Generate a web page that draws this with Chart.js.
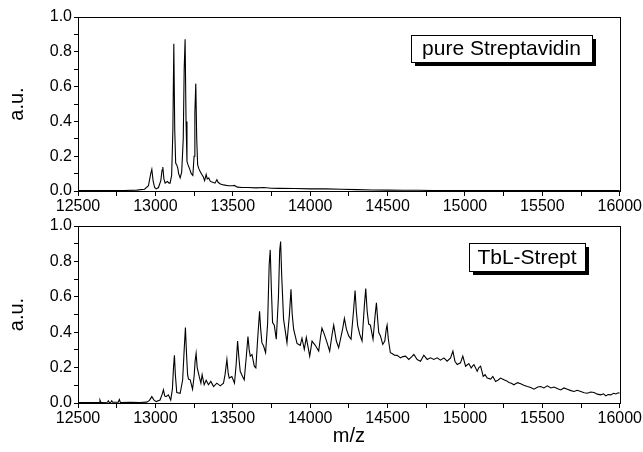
<!DOCTYPE html>
<html>
<head>
<meta charset="utf-8">
<script src="https://cdn.jsdelivr.net/npm/chart.js@4.4.0/dist/chart.umd.min.js"></script>
<style>
  html, body { margin: 0; padding: 0; background: #fff; }
  #wrap { position: relative; width: 643px; height: 452px; }
  canvas { position: absolute; left: 0; }
  #top { top: 0; }
  #bottom { top: 214px; }
</style>
</head>
<body>
<div id="wrap">
  <canvas id="top" width="643" height="214"></canvas>
  <canvas id="bottom" width="643" height="238"></canvas>
</div>
<script>
// m/z tick positions (labels only on every 500)
const xTicks = [12500, 12750, 13000, 13250, 13500, 13750, 14000, 14250, 14500, 14750, 15000, 15250, 15500, 15750, 16000];
const yTicks = [0, 0.1, 0.2, 0.3, 0.4, 0.5, 0.6, 0.7, 0.8, 0.9, 1.0];

// pure Streptavidin spectrum
const topMz = [12500, 12600, 12700, 12800, 12880, 12930, 12955, 12970, 12977, 12985, 12995, 13005, 13020, 13035, 13043, 13048, 13055, 13063, 13070, 13078, 13088, 13095, 13105, 13113, 13119, 13125, 13131, 13138, 13145, 13150, 13160, 13170, 13180, 13186, 13192, 13198, 13204, 13211, 13220, 13232, 13242, 13250, 13255, 13261, 13267, 13273, 13280, 13290, 13300, 13310, 13318, 13328, 13335, 13345, 13355, 13370, 13385, 13397, 13405, 13420, 13440, 13470, 13500, 13510, 13530, 13560, 13600, 13650, 13700, 13750, 13800, 13900, 14000, 14100, 14200, 14300, 14400, 14500, 14600, 14700, 14800, 15000, 15200, 15500, 15800, 16000];
const topVal = [0.002, 0.002, 0.003, 0.003, 0.005, 0.01, 0.03, 0.10, 0.125, 0.06, 0.02, 0.012, 0.02, 0.06, 0.12, 0.138, 0.07, 0.045, 0.05, 0.055, 0.045, 0.045, 0.09, 0.35, 0.846, 0.35, 0.16, 0.15, 0.13, 0.1, 0.075, 0.11, 0.3, 0.7, 0.872, 0.4, 0.17, 0.15, 0.13, 0.1, 0.09, 0.2, 0.45, 0.617, 0.3, 0.15, 0.13, 0.11, 0.095, 0.08, 0.06, 0.095, 0.07, 0.075, 0.055, 0.05, 0.045, 0.065, 0.05, 0.04, 0.035, 0.03, 0.03, 0.032, 0.022, 0.02, 0.02, 0.018, 0.02, 0.016, 0.015, 0.014, 0.012, 0.012, 0.01, 0.008, 0.006, 0.005, 0.004, 0.004, 0.003, 0.003, 0.002, 0.002, 0.002, 0.002];

// TbL-Strept spectrum
const botMz = [12500, 12560, 12600, 12636, 12642, 12648, 12690, 12696, 12702, 12712, 12718, 12724, 12760, 12767, 12774, 12836, 12900, 12944, 12962, 12977, 12990, 13005, 13030, 13044, 13052, 13060, 13069, 13084, 13099, 13110, 13117, 13123, 13129, 13138, 13160, 13176, 13186, 13194, 13201, 13208, 13214, 13225, 13240, 13250, 13257, 13263, 13270, 13283, 13294, 13302, 13315, 13328, 13343, 13358, 13376, 13397, 13419, 13440, 13450, 13462, 13470, 13477, 13494, 13511, 13522, 13531, 13540, 13548, 13563, 13574, 13588, 13598, 13606, 13613, 13624, 13639, 13649, 13662, 13673, 13680, 13688, 13699, 13712, 13725, 13735, 13742, 13749, 13757, 13768, 13781, 13795, 13803, 13809, 13816, 13828, 13850, 13866, 13876, 13884, 13893, 13915, 13936, 13947, 13962, 13975, 13997, 14012, 14033, 14055, 14068, 14076, 14091, 14109, 14126, 14142, 14152, 14169, 14184, 14210, 14221, 14234, 14249, 14264, 14280, 14290, 14298, 14307, 14320, 14335, 14350, 14359, 14368, 14378, 14389, 14406, 14420, 14428, 14436, 14443, 14454, 14469, 14482, 14492, 14497, 14505, 14518, 14529, 14545, 14562, 14583, 14600, 14616, 14637, 14655, 14670, 14691, 14713, 14734, 14756, 14777, 14799, 14820, 14842, 14864, 14885, 14907, 14922, 14935, 14950, 14971, 14986, 15004, 15025, 15040, 15050, 15058, 15079, 15090, 15101, 15118, 15130, 15144, 15166, 15180, 15198, 15215, 15230, 15252, 15270, 15284, 15300, 15316, 15340, 15360, 15380, 15403, 15425, 15446, 15470, 15489, 15510, 15532, 15555, 15575, 15600, 15618, 15640, 15661, 15685, 15705, 15725, 15748, 15770, 15791, 15812, 15834, 15855, 15877, 15895, 15910, 15925, 15942, 15960, 15974, 15990, 16000];
const botVal = [0.002, 0.003, 0.002, 0.003, 0.016, 0.003, 0.004, 0.012, 0.003, 0.004, 0.012, 0.004, 0.004, 0.02, 0.003, 0.004, 0.003, 0.005, 0.015, 0.036, 0.018, 0.008, 0.017, 0.05, 0.074, 0.04, 0.036, 0.046, 0.017, 0.08, 0.2, 0.269, 0.16, 0.059, 0.055, 0.13, 0.3, 0.427, 0.28, 0.16, 0.135, 0.131, 0.078, 0.15, 0.24, 0.28, 0.2, 0.15, 0.112, 0.16, 0.103, 0.128, 0.103, 0.122, 0.093, 0.112, 0.097, 0.112, 0.16, 0.246, 0.17, 0.141, 0.15, 0.112, 0.22, 0.35, 0.25, 0.179, 0.15, 0.131, 0.27, 0.375, 0.3, 0.265, 0.274, 0.208, 0.198, 0.38, 0.518, 0.42, 0.341, 0.322, 0.284, 0.45, 0.78, 0.865, 0.65, 0.455, 0.44, 0.36, 0.6, 0.86, 0.912, 0.72, 0.474, 0.341, 0.5, 0.642, 0.5, 0.417, 0.337, 0.326, 0.366, 0.303, 0.37, 0.265, 0.35, 0.326, 0.293, 0.38, 0.423, 0.389, 0.341, 0.293, 0.39, 0.44, 0.35, 0.312, 0.42, 0.478, 0.417, 0.379, 0.36, 0.52, 0.636, 0.52, 0.436, 0.389, 0.35, 0.55, 0.646, 0.52, 0.446, 0.44, 0.36, 0.5, 0.566, 0.47, 0.398, 0.379, 0.331, 0.35, 0.42, 0.44, 0.36, 0.284, 0.28, 0.27, 0.269, 0.255, 0.262, 0.265, 0.246, 0.26, 0.274, 0.246, 0.236, 0.27, 0.246, 0.255, 0.246, 0.255, 0.242, 0.255, 0.236, 0.255, 0.293, 0.236, 0.217, 0.227, 0.265, 0.208, 0.223, 0.198, 0.21, 0.217, 0.179, 0.2, 0.208, 0.15, 0.16, 0.141, 0.135, 0.15, 0.122, 0.13, 0.141, 0.131, 0.125, 0.116, 0.112, 0.103, 0.115, 0.109, 0.1, 0.093, 0.088, 0.078, 0.09, 0.093, 0.085, 0.097, 0.085, 0.09, 0.08, 0.074, 0.085, 0.078, 0.07, 0.065, 0.072, 0.065, 0.058, 0.055, 0.062, 0.059, 0.05, 0.046, 0.052, 0.04, 0.048, 0.046, 0.055, 0.051, 0.058, 0.055];

const FONT = 'Liberation Sans, Arial, sans-serif';

// frame around plot area + labelled box with shadow
const framePlugin = {
    id: 'frame',
    afterDraw(chart, args, opts) {
        const { ctx, chartArea: a } = chart;
        ctx.save();
        ctx.strokeStyle = '#000';
        ctx.lineWidth = 1;
        ctx.strokeRect(Math.round(a.left) + 0.5, Math.round(a.top) + 0.5, Math.round(a.right - a.left), Math.round(a.bottom - a.top));
        if (opts.text) {
            const b = opts.box;
            ctx.fillStyle = '#000';
            ctx.fillRect(b.x + 4, b.y + 4, b.w, b.h);
            ctx.fillStyle = '#fff';
            ctx.fillRect(b.x, b.y, b.w, b.h);
            ctx.strokeRect(b.x + 0.5, b.y + 0.5, b.w, b.h);
            ctx.fillStyle = '#000';
            ctx.font = '21px ' + FONT;
            ctx.textAlign = 'center';
            ctx.textBaseline = 'middle';
            ctx.fillText(opts.text, b.x + b.w / 2, b.y + b.h / 2 + 1);
        }
        ctx.restore();
    }
};

function makePanel(canvasId, mz, vals, label, box, showXTitle, padTop, xHeight) {
    const points = mz.map((m, i) => ({ x: m, y: vals[i] }));
    return new Chart(document.getElementById(canvasId), {
        type: 'line',
        data: {
            datasets: [{
                data: points,
                borderColor: '#000',
                borderWidth: 1.1,
                pointRadius: 0,
                tension: 0,
                fill: false
            }]
        },
        options: {
            responsive: false,
            animation: false,
            devicePixelRatio: 1,
            layout: { padding: { top: padTop, right: 23, left: 0, bottom: 0 } },
            plugins: {
                legend: { display: false },
                tooltip: { enabled: false },
                frame: { text: label, box: box }
            },
            scales: {
                x: {
                    type: 'linear',
                    min: 12500,
                    max: 16000,
                    afterBuildTicks: s => { s.ticks = xTicks.map(v => ({ value: v })); },
                    afterFit: s => { s.height = xHeight; },
                    grid: { drawOnChartArea: false, drawTicks: true, tickLength: 5, color: '#000' },
                    border: { display: true, color: '#000' },
                    ticks: {
                        autoSkip: false,
                        maxRotation: 0,
                        padding: 1,
                        color: '#000',
                        font: { family: FONT, size: 16 },
                        callback: v => (v % 500 === 0 ? String(v) : '')
                    },
                    title: {
                        display: showXTitle,
                        text: 'm/z',
                        color: '#000',
                        font: { family: FONT, size: 20 },
                        padding: { top: 0, bottom: 4 }
                    }
                },
                y: {
                    min: 0,
                    max: 1,
                    afterBuildTicks: s => { s.ticks = yTicks.map(v => ({ value: v })); },
                    afterFit: s => { s.width = 78; },
                    grid: { drawOnChartArea: false, drawTicks: true, tickLength: 4, color: '#000' },
                    border: { display: true, color: '#000' },
                    ticks: {
                        autoSkip: false,
                        padding: 2,
                        color: '#000',
                        font: { family: FONT, size: 16 },
                        callback: v => (Math.round(v * 10) % 2 === 0 ? v.toFixed(1) : '')
                    },
                    title: {
                        display: true,
                        text: 'a.u.',
                        color: '#000',
                        font: { family: FONT, size: 20 },
                        padding: { top: 5, bottom: 0 }
                    }
                }
            }
        },
        plugins: [framePlugin]
    });
}

makePanel('top', topMz, topVal, 'pure Streptavidin', { x: 411, y: 35, w: 181, h: 27 }, false, 17, 23);
makePanel('bottom', botMz, botVal, 'TbL-Strept', { x: 469, y: 29, w: 116, h: 28 }, true, 12, 49);
</script>
</body>
</html>
